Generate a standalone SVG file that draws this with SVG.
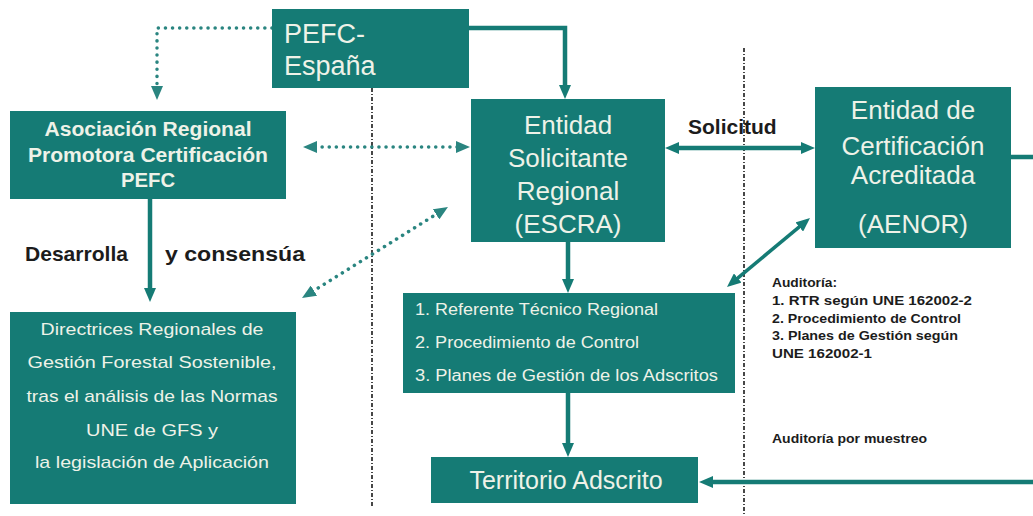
<svg xmlns="http://www.w3.org/2000/svg" width="1033" height="516" viewBox="0 0 1033 516">
<style>
.box{fill:#157b75}
.wt{fill:#eef2e8;font-family:"Liberation Sans",Arial,sans-serif}
.dk{fill:#1c1c1c;font-family:"Liberation Sans",Arial,sans-serif;font-weight:bold}
.solid{fill:none;stroke:#157b75;stroke-width:4.5}
.thin{fill:none;stroke:#157b75;stroke-width:3.5}
.dot{fill:none;stroke:#2a8580;stroke-width:3.5;stroke-linecap:round;stroke-dasharray:0.1 7}
.sep{fill:none;stroke:#1a1a1a;stroke-width:1.6;stroke-dasharray:4 2 1 2}
</style>
<defs>
<marker id="ah" markerWidth="14" markerHeight="12" refX="2" refY="6" orient="auto-start-reverse" markerUnits="userSpaceOnUse">
<path d="M0,0 L14,6 L0,12 z" fill="#157b75"/>
</marker>
<marker id="ahd" markerWidth="14" markerHeight="12" refX="2" refY="6" orient="auto-start-reverse" markerUnits="userSpaceOnUse">
<path d="M0,0 L14,6 L0,12 z" fill="#2a8580"/>
</marker>
</defs>
<rect width="1033" height="516" fill="#ffffff"/>

<g id="separators">
<line class="sep" x1="372" y1="88" x2="372" y2="507"/>
<line class="sep" x1="744" y1="48" x2="744" y2="515"/>
</g>

<g id="connectors">
<path class="solid" d="M469,28 H565 V87" marker-end="url(#ah)"/>
<path class="dot" d="M272,28 H157 V88" marker-end="url(#ahd)"/>
<path class="dot" d="M315,147 H458" marker-start="url(#ahd)" marker-end="url(#ahd)"/>
<path class="dot" d="M312.2,291.7 L437.8,213.3" marker-start="url(#ahd)" marker-end="url(#ahd)"/>
<path class="solid" d="M150,199 V290" marker-end="url(#ah)"/>
<path class="solid" d="M677,148 H803" marker-start="url(#ah)" marker-end="url(#ah)"/>
<path class="solid" d="M568,242 V281" marker-end="url(#ah)"/>
<path class="solid" d="M568,393 V445" marker-end="url(#ah)"/>
<path class="thin" d="M736.2,279.3 L800.8,225.7" marker-start="url(#ah)" marker-end="url(#ah)"/>
<path class="solid" d="M1011,157 H1040 V482 H711" marker-end="url(#ah)"/>
</g>

<g id="pefc-espana">
<rect class="box" x="272" y="9" width="197" height="79"/>
<text class="wt" x="284" y="43" font-size="27">PEFC-</text>
<text class="wt" x="284" y="75" font-size="27">España</text>
</g>

<g id="asociacion">
<rect class="box" x="10" y="111" width="276" height="88"/>
<text class="wt" x="148" y="136" font-size="20" font-weight="bold" text-anchor="middle" textLength="207" lengthAdjust="spacingAndGlyphs">Asociación Regional</text>
<text class="wt" x="148" y="162" font-size="20" font-weight="bold" text-anchor="middle" textLength="240" lengthAdjust="spacingAndGlyphs">Promotora Certificación</text>
<text class="wt" x="148" y="187" font-size="20" font-weight="bold" text-anchor="middle" textLength="54" lengthAdjust="spacingAndGlyphs">PEFC</text>
</g>

<g id="escra">
<rect class="box" x="471" y="99" width="194" height="143"/>
<text class="wt" x="568" y="134" font-size="26" text-anchor="middle">Entidad</text>
<text class="wt" x="568" y="167" font-size="26" text-anchor="middle">Solicitante</text>
<text class="wt" x="568" y="200" font-size="26" text-anchor="middle">Regional</text>
<text class="wt" x="568" y="233" font-size="26" text-anchor="middle">(ESCRA)</text>
</g>

<g id="aenor">
<rect class="box" x="815" y="87" width="196" height="161"/>
<text class="wt" x="913" y="119" font-size="26" text-anchor="middle">Entidad de</text>
<text class="wt" x="913" y="155" font-size="26" text-anchor="middle">Certificación</text>
<text class="wt" x="913" y="184" font-size="26" text-anchor="middle">Acreditada</text>
<text class="wt" x="913" y="233" font-size="26" text-anchor="middle">(AENOR)</text>
</g>

<g id="directrices">
<rect class="box" x="10" y="312" width="286" height="192"/>
<text class="wt" x="152" y="335" font-size="17" text-anchor="middle" textLength="223" lengthAdjust="spacingAndGlyphs">Directrices Regionales de</text>
<text class="wt" x="152" y="368" font-size="17" text-anchor="middle" textLength="249" lengthAdjust="spacingAndGlyphs">Gestión Forestal Sostenible,</text>
<text class="wt" x="152" y="402" font-size="17" text-anchor="middle" textLength="251" lengthAdjust="spacingAndGlyphs">tras el análisis de las Normas</text>
<text class="wt" x="152" y="436" font-size="17" text-anchor="middle" textLength="132" lengthAdjust="spacingAndGlyphs">UNE de GFS y</text>
<text class="wt" x="152" y="468" font-size="17" text-anchor="middle" textLength="234" lengthAdjust="spacingAndGlyphs">la legislación de Aplicación</text>
</g>

<g id="requisitos">
<rect class="box" x="403" y="293" width="332" height="100"/>
<text class="wt" x="415" y="315" font-size="16" textLength="243" lengthAdjust="spacingAndGlyphs">1. Referente Técnico Regional</text>
<text class="wt" x="415" y="348" font-size="16" textLength="224" lengthAdjust="spacingAndGlyphs">2. Procedimiento de Control</text>
<text class="wt" x="415" y="381" font-size="16" textLength="303" lengthAdjust="spacingAndGlyphs">3. Planes de Gestión de los Adscritos</text>
</g>

<g id="territorio">
<rect class="box" x="431" y="457" width="267" height="46"/>
<text class="wt" x="566" y="489" font-size="25" text-anchor="middle">Territorio Adscrito</text>
</g>

<g id="labels">
<text class="dk" x="688" y="134" font-size="21">Solicitud</text>
<text class="dk" x="25" y="261" font-size="21" textLength="103" lengthAdjust="spacingAndGlyphs">Desarrolla</text>
<text class="dk" x="165" y="261" font-size="21" textLength="140" lengthAdjust="spacingAndGlyphs">y consensúa</text>
<text class="dk" x="772" y="287" font-size="13.5" textLength="65" lengthAdjust="spacingAndGlyphs">Auditoría:</text>
<text class="dk" x="772" y="305" font-size="13.5" textLength="200" lengthAdjust="spacingAndGlyphs">1. RTR según UNE 162002-2</text>
<text class="dk" x="772" y="323" font-size="13.5" textLength="189" lengthAdjust="spacingAndGlyphs">2. Procedimiento de Control</text>
<text class="dk" x="772" y="340" font-size="13.5" textLength="186" lengthAdjust="spacingAndGlyphs">3. Planes de Gestión según</text>
<text class="dk" x="772" y="358" font-size="13.5" textLength="100" lengthAdjust="spacingAndGlyphs">UNE 162002-1</text>
<text class="dk" x="772" y="443" font-size="13.5" textLength="155" lengthAdjust="spacingAndGlyphs">Auditoría por muestreo</text>
</g>
</svg>
